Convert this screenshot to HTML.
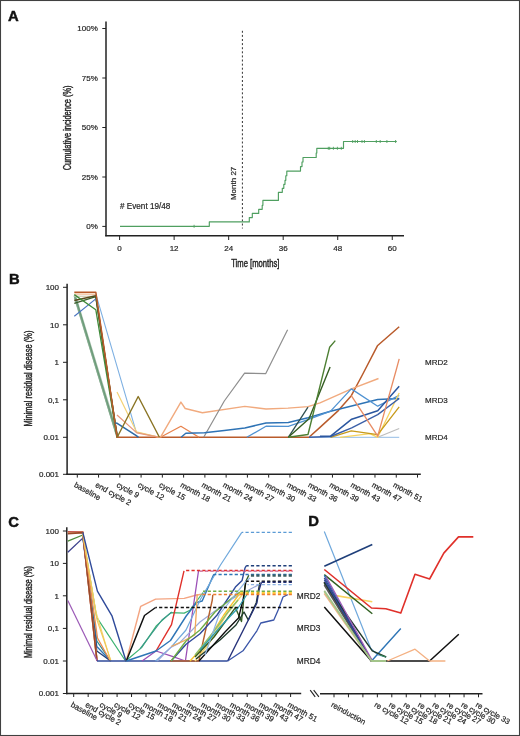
<!DOCTYPE html>
<html><head><meta charset="utf-8"><style>
html,body{margin:0;padding:0;background:#fff;}
#fig{position:relative;width:520px;height:736px;overflow:hidden;background:#fff;}
svg{display:block;will-change:transform;}
svg text{font-family:"Liberation Sans", sans-serif;}
</style></head><body><div id="fig">
<svg width="520" height="736" viewBox="0 0 520 736">
<rect x="0" y="0" width="520" height="736" fill="#fff"/>
<text x="8.00" y="20.90" font-size="14.8" text-anchor="start" fill="#111" font-weight="bold" stroke="#111" stroke-width="0.45">A</text>
<text x="8.90" y="283.50" font-size="14.8" text-anchor="start" fill="#111" font-weight="bold" stroke="#111" stroke-width="0.45">B</text>
<text x="8.30" y="526.50" font-size="14.8" text-anchor="start" fill="#111" font-weight="bold" stroke="#111" stroke-width="0.45">C</text>
<text x="308.30" y="526.30" font-size="14.8" text-anchor="start" fill="#111" font-weight="bold" stroke="#111" stroke-width="0.45">D</text>
<line x1="106.00" y1="21.50" x2="106.00" y2="236.30" stroke="#222" stroke-width="1.5"/>
<line x1="105.25" y1="235.70" x2="404.00" y2="235.70" stroke="#222" stroke-width="1.5"/>
<line x1="102.30" y1="28.50" x2="106.00" y2="28.50" stroke="#222" stroke-width="1"/>
<text x="97.80" y="31.30" font-size="8" text-anchor="end" fill="#262626" font-weight="normal" stroke="#262626" stroke-width="0.2">100%</text>
<line x1="102.30" y1="78.00" x2="106.00" y2="78.00" stroke="#222" stroke-width="1"/>
<text x="97.80" y="80.80" font-size="8" text-anchor="end" fill="#262626" font-weight="normal" stroke="#262626" stroke-width="0.2">75%</text>
<line x1="102.30" y1="127.50" x2="106.00" y2="127.50" stroke="#222" stroke-width="1"/>
<text x="97.80" y="130.30" font-size="8" text-anchor="end" fill="#262626" font-weight="normal" stroke="#262626" stroke-width="0.2">50%</text>
<line x1="102.30" y1="177.00" x2="106.00" y2="177.00" stroke="#222" stroke-width="1"/>
<text x="97.80" y="179.80" font-size="8" text-anchor="end" fill="#262626" font-weight="normal" stroke="#262626" stroke-width="0.2">25%</text>
<line x1="102.30" y1="226.40" x2="106.00" y2="226.40" stroke="#222" stroke-width="1"/>
<text x="97.80" y="229.20" font-size="8" text-anchor="end" fill="#262626" font-weight="normal" stroke="#262626" stroke-width="0.2">0%</text>
<line x1="119.60" y1="235.70" x2="119.60" y2="240.00" stroke="#222" stroke-width="1"/>
<text x="119.60" y="251.00" font-size="8" text-anchor="middle" fill="#262626" font-weight="normal" stroke="#262626" stroke-width="0.2">0</text>
<line x1="174.13" y1="235.70" x2="174.13" y2="240.00" stroke="#222" stroke-width="1"/>
<text x="174.13" y="251.00" font-size="8" text-anchor="middle" fill="#262626" font-weight="normal" stroke="#262626" stroke-width="0.2">12</text>
<line x1="228.66" y1="235.70" x2="228.66" y2="240.00" stroke="#222" stroke-width="1"/>
<text x="228.66" y="251.00" font-size="8" text-anchor="middle" fill="#262626" font-weight="normal" stroke="#262626" stroke-width="0.2">24</text>
<line x1="283.19" y1="235.70" x2="283.19" y2="240.00" stroke="#222" stroke-width="1"/>
<text x="283.19" y="251.00" font-size="8" text-anchor="middle" fill="#262626" font-weight="normal" stroke="#262626" stroke-width="0.2">36</text>
<line x1="337.72" y1="235.70" x2="337.72" y2="240.00" stroke="#222" stroke-width="1"/>
<text x="337.72" y="251.00" font-size="8" text-anchor="middle" fill="#262626" font-weight="normal" stroke="#262626" stroke-width="0.2">48</text>
<line x1="392.25" y1="235.70" x2="392.25" y2="240.00" stroke="#222" stroke-width="1"/>
<text x="392.25" y="251.00" font-size="8" text-anchor="middle" fill="#262626" font-weight="normal" stroke="#262626" stroke-width="0.2">60</text>
<text x="0.00" y="0.00" font-size="10" text-anchor="middle" fill="#262626" font-weight="normal" transform="translate(255.30,267.00) scale(0.765,1)" stroke="#262626" stroke-width="0.42">Time [months]</text>
<text x="0.00" y="0.00" font-size="10" text-anchor="middle" fill="#262626" font-weight="normal" transform="translate(71.20,127.90) rotate(-90) scale(0.75,1)" stroke="#262626" stroke-width="0.42">Cumulative incidence (%)</text>
<text x="120.10" y="208.90" font-size="8.15" text-anchor="start" fill="#262626" font-weight="normal" stroke="#262626" stroke-width="0.2"># Event 19/48</text>
<line x1="242.40" y1="30.80" x2="242.40" y2="228.50" stroke="#333" stroke-width="1" stroke-dasharray="2,2.1"/>
<text x="0.00" y="0.00" font-size="8" text-anchor="middle" fill="#262626" font-weight="normal" transform="translate(235.90,183.40) rotate(-90)" stroke="#262626" stroke-width="0.2">Month 27</text>
<line x1="67.10" y1="283.80" x2="67.10" y2="475.00" stroke="#222" stroke-width="1.5"/>
<line x1="66.35" y1="474.20" x2="420.80" y2="474.20" stroke="#222" stroke-width="1.5"/>
<line x1="63.00" y1="287.30" x2="67.10" y2="287.30" stroke="#222" stroke-width="1"/>
<text x="59.00" y="290.10" font-size="8" text-anchor="end" fill="#262626" font-weight="normal" stroke="#262626" stroke-width="0.2">100</text>
<line x1="63.00" y1="324.80" x2="67.10" y2="324.80" stroke="#222" stroke-width="1"/>
<text x="59.00" y="327.60" font-size="8" text-anchor="end" fill="#262626" font-weight="normal" stroke="#262626" stroke-width="0.2">10</text>
<line x1="63.00" y1="362.30" x2="67.10" y2="362.30" stroke="#222" stroke-width="1"/>
<text x="59.00" y="365.10" font-size="8" text-anchor="end" fill="#262626" font-weight="normal" stroke="#262626" stroke-width="0.2">1</text>
<line x1="63.00" y1="399.80" x2="67.10" y2="399.80" stroke="#222" stroke-width="1"/>
<text x="59.00" y="402.60" font-size="8" text-anchor="end" fill="#262626" font-weight="normal" stroke="#262626" stroke-width="0.2">0,1</text>
<line x1="63.00" y1="437.30" x2="67.10" y2="437.30" stroke="#222" stroke-width="1"/>
<text x="59.00" y="440.10" font-size="8" text-anchor="end" fill="#262626" font-weight="normal" stroke="#262626" stroke-width="0.2">0.01</text>
<line x1="63.00" y1="474.30" x2="67.10" y2="474.30" stroke="#222" stroke-width="1"/>
<text x="59.00" y="477.10" font-size="8" text-anchor="end" fill="#262626" font-weight="normal" stroke="#262626" stroke-width="0.2">0.001</text>
<text x="0.00" y="0.00" font-size="10" text-anchor="middle" fill="#262626" font-weight="normal" transform="translate(32.30,378.50) rotate(-90) scale(0.75,1)" stroke="#262626" stroke-width="0.42">Minimal residual disease (%)</text>
<line x1="77.30" y1="474.20" x2="77.30" y2="477.60" stroke="#222" stroke-width="1"/>
<line x1="98.56" y1="474.20" x2="98.56" y2="477.60" stroke="#222" stroke-width="1"/>
<line x1="119.83" y1="474.20" x2="119.83" y2="477.60" stroke="#222" stroke-width="1"/>
<line x1="141.09" y1="474.20" x2="141.09" y2="477.60" stroke="#222" stroke-width="1"/>
<line x1="162.35" y1="474.20" x2="162.35" y2="477.60" stroke="#222" stroke-width="1"/>
<line x1="183.62" y1="474.20" x2="183.62" y2="477.60" stroke="#222" stroke-width="1"/>
<line x1="204.88" y1="474.20" x2="204.88" y2="477.60" stroke="#222" stroke-width="1"/>
<line x1="226.14" y1="474.20" x2="226.14" y2="477.60" stroke="#222" stroke-width="1"/>
<line x1="247.40" y1="474.20" x2="247.40" y2="477.60" stroke="#222" stroke-width="1"/>
<line x1="268.67" y1="474.20" x2="268.67" y2="477.60" stroke="#222" stroke-width="1"/>
<line x1="289.93" y1="474.20" x2="289.93" y2="477.60" stroke="#222" stroke-width="1"/>
<line x1="311.19" y1="474.20" x2="311.19" y2="477.60" stroke="#222" stroke-width="1"/>
<line x1="332.46" y1="474.20" x2="332.46" y2="477.60" stroke="#222" stroke-width="1"/>
<line x1="353.72" y1="474.20" x2="353.72" y2="477.60" stroke="#222" stroke-width="1"/>
<line x1="374.98" y1="474.20" x2="374.98" y2="477.60" stroke="#222" stroke-width="1"/>
<line x1="396.25" y1="474.20" x2="396.25" y2="477.60" stroke="#222" stroke-width="1"/>
<line x1="417.51" y1="474.20" x2="417.51" y2="477.60" stroke="#222" stroke-width="1"/>
<text x="0.00" y="0.00" font-size="7.8" text-anchor="start" fill="#262626" font-weight="normal" transform="translate(73.50,486.40) rotate(29)" stroke="#262626" stroke-width="0.2">baseline</text>
<text x="0.00" y="0.00" font-size="7.8" text-anchor="start" fill="#262626" font-weight="normal" transform="translate(94.76,486.40) rotate(29)" stroke="#262626" stroke-width="0.2">end cycle 2</text>
<text x="0.00" y="0.00" font-size="7.8" text-anchor="start" fill="#262626" font-weight="normal" transform="translate(116.03,486.40) rotate(29)" stroke="#262626" stroke-width="0.2">cycle 9</text>
<text x="0.00" y="0.00" font-size="7.8" text-anchor="start" fill="#262626" font-weight="normal" transform="translate(137.29,486.40) rotate(29)" stroke="#262626" stroke-width="0.2">cycle 12</text>
<text x="0.00" y="0.00" font-size="7.8" text-anchor="start" fill="#262626" font-weight="normal" transform="translate(158.55,486.40) rotate(29)" stroke="#262626" stroke-width="0.2">cycle 15</text>
<text x="0.00" y="0.00" font-size="7.8" text-anchor="start" fill="#262626" font-weight="normal" transform="translate(179.81,486.40) rotate(29)" stroke="#262626" stroke-width="0.2">month 18</text>
<text x="0.00" y="0.00" font-size="7.8" text-anchor="start" fill="#262626" font-weight="normal" transform="translate(201.08,486.40) rotate(29)" stroke="#262626" stroke-width="0.2">month 21</text>
<text x="0.00" y="0.00" font-size="7.8" text-anchor="start" fill="#262626" font-weight="normal" transform="translate(222.34,486.40) rotate(29)" stroke="#262626" stroke-width="0.2">month 24</text>
<text x="0.00" y="0.00" font-size="7.8" text-anchor="start" fill="#262626" font-weight="normal" transform="translate(243.60,486.40) rotate(29)" stroke="#262626" stroke-width="0.2">month 27</text>
<text x="0.00" y="0.00" font-size="7.8" text-anchor="start" fill="#262626" font-weight="normal" transform="translate(264.87,486.40) rotate(29)" stroke="#262626" stroke-width="0.2">month 30</text>
<text x="0.00" y="0.00" font-size="7.8" text-anchor="start" fill="#262626" font-weight="normal" transform="translate(286.13,486.40) rotate(29)" stroke="#262626" stroke-width="0.2">month 33</text>
<text x="0.00" y="0.00" font-size="7.8" text-anchor="start" fill="#262626" font-weight="normal" transform="translate(307.39,486.40) rotate(29)" stroke="#262626" stroke-width="0.2">month 36</text>
<text x="0.00" y="0.00" font-size="7.8" text-anchor="start" fill="#262626" font-weight="normal" transform="translate(328.66,486.40) rotate(29)" stroke="#262626" stroke-width="0.2">month 39</text>
<text x="0.00" y="0.00" font-size="7.8" text-anchor="start" fill="#262626" font-weight="normal" transform="translate(349.92,486.40) rotate(29)" stroke="#262626" stroke-width="0.2">month 43</text>
<text x="0.00" y="0.00" font-size="7.8" text-anchor="start" fill="#262626" font-weight="normal" transform="translate(371.18,486.40) rotate(29)" stroke="#262626" stroke-width="0.2">month 47</text>
<text x="0.00" y="0.00" font-size="7.8" text-anchor="start" fill="#262626" font-weight="normal" transform="translate(392.45,486.40) rotate(29)" stroke="#262626" stroke-width="0.2">month 51</text>
<text x="425.00" y="365.00" font-size="8" text-anchor="start" fill="#262626" font-weight="normal" stroke="#262626" stroke-width="0.2">MRD2</text>
<text x="425.00" y="402.60" font-size="8" text-anchor="start" fill="#262626" font-weight="normal" stroke="#262626" stroke-width="0.2">MRD3</text>
<text x="425.00" y="440.00" font-size="8" text-anchor="start" fill="#262626" font-weight="normal" stroke="#262626" stroke-width="0.2">MRD4</text>
<line x1="66.80" y1="527.30" x2="66.80" y2="694.30" stroke="#222" stroke-width="1.5"/>
<line x1="66.05" y1="693.50" x2="301.20" y2="693.50" stroke="#222" stroke-width="1.5"/>
<line x1="62.90" y1="531.00" x2="66.80" y2="531.00" stroke="#222" stroke-width="1"/>
<text x="58.90" y="533.80" font-size="8" text-anchor="end" fill="#262626" font-weight="normal" stroke="#262626" stroke-width="0.2">100</text>
<line x1="62.90" y1="563.40" x2="66.80" y2="563.40" stroke="#222" stroke-width="1"/>
<text x="58.90" y="566.20" font-size="8" text-anchor="end" fill="#262626" font-weight="normal" stroke="#262626" stroke-width="0.2">10</text>
<line x1="62.90" y1="595.80" x2="66.80" y2="595.80" stroke="#222" stroke-width="1"/>
<text x="58.90" y="598.60" font-size="8" text-anchor="end" fill="#262626" font-weight="normal" stroke="#262626" stroke-width="0.2">1</text>
<line x1="62.90" y1="628.40" x2="66.80" y2="628.40" stroke="#222" stroke-width="1"/>
<text x="58.90" y="631.20" font-size="8" text-anchor="end" fill="#262626" font-weight="normal" stroke="#262626" stroke-width="0.2">0,1</text>
<line x1="62.90" y1="661.00" x2="66.80" y2="661.00" stroke="#222" stroke-width="1"/>
<text x="58.90" y="663.80" font-size="8" text-anchor="end" fill="#262626" font-weight="normal" stroke="#262626" stroke-width="0.2">0.01</text>
<line x1="62.90" y1="693.50" x2="66.80" y2="693.50" stroke="#222" stroke-width="1"/>
<text x="58.90" y="696.30" font-size="8" text-anchor="end" fill="#262626" font-weight="normal" stroke="#262626" stroke-width="0.2">0.001</text>
<text x="0.00" y="0.00" font-size="10" text-anchor="middle" fill="#262626" font-weight="normal" transform="translate(32.30,612.00) rotate(-90) scale(0.72,1)" stroke="#262626" stroke-width="0.42">Minimal residual disease (%)</text>
<line x1="73.70" y1="693.50" x2="73.70" y2="697.00" stroke="#222" stroke-width="1"/>
<line x1="88.16" y1="693.50" x2="88.16" y2="697.00" stroke="#222" stroke-width="1"/>
<line x1="102.62" y1="693.50" x2="102.62" y2="697.00" stroke="#222" stroke-width="1"/>
<line x1="117.08" y1="693.50" x2="117.08" y2="697.00" stroke="#222" stroke-width="1"/>
<line x1="131.54" y1="693.50" x2="131.54" y2="697.00" stroke="#222" stroke-width="1"/>
<line x1="146.00" y1="693.50" x2="146.00" y2="697.00" stroke="#222" stroke-width="1"/>
<line x1="160.46" y1="693.50" x2="160.46" y2="697.00" stroke="#222" stroke-width="1"/>
<line x1="174.92" y1="693.50" x2="174.92" y2="697.00" stroke="#222" stroke-width="1"/>
<line x1="189.38" y1="693.50" x2="189.38" y2="697.00" stroke="#222" stroke-width="1"/>
<line x1="203.84" y1="693.50" x2="203.84" y2="697.00" stroke="#222" stroke-width="1"/>
<line x1="218.30" y1="693.50" x2="218.30" y2="697.00" stroke="#222" stroke-width="1"/>
<line x1="232.76" y1="693.50" x2="232.76" y2="697.00" stroke="#222" stroke-width="1"/>
<line x1="247.22" y1="693.50" x2="247.22" y2="697.00" stroke="#222" stroke-width="1"/>
<line x1="261.68" y1="693.50" x2="261.68" y2="697.00" stroke="#222" stroke-width="1"/>
<line x1="276.14" y1="693.50" x2="276.14" y2="697.00" stroke="#222" stroke-width="1"/>
<line x1="290.60" y1="693.50" x2="290.60" y2="697.00" stroke="#222" stroke-width="1"/>
<text x="0.00" y="0.00" font-size="7.8" text-anchor="start" fill="#262626" font-weight="normal" transform="translate(70.20,706.30) rotate(29)" stroke="#262626" stroke-width="0.2">baseline</text>
<text x="0.00" y="0.00" font-size="7.8" text-anchor="start" fill="#262626" font-weight="normal" transform="translate(84.66,706.30) rotate(29)" stroke="#262626" stroke-width="0.2">end cycle 2</text>
<text x="0.00" y="0.00" font-size="7.8" text-anchor="start" fill="#262626" font-weight="normal" transform="translate(99.12,706.30) rotate(29)" stroke="#262626" stroke-width="0.2">cycle 9</text>
<text x="0.00" y="0.00" font-size="7.8" text-anchor="start" fill="#262626" font-weight="normal" transform="translate(113.58,706.30) rotate(29)" stroke="#262626" stroke-width="0.2">cycle 12</text>
<text x="0.00" y="0.00" font-size="7.8" text-anchor="start" fill="#262626" font-weight="normal" transform="translate(128.04,706.30) rotate(29)" stroke="#262626" stroke-width="0.2">cycle 15</text>
<text x="0.00" y="0.00" font-size="7.8" text-anchor="start" fill="#262626" font-weight="normal" transform="translate(142.50,706.30) rotate(29)" stroke="#262626" stroke-width="0.2">month 18</text>
<text x="0.00" y="0.00" font-size="7.8" text-anchor="start" fill="#262626" font-weight="normal" transform="translate(156.96,706.30) rotate(29)" stroke="#262626" stroke-width="0.2">month 21</text>
<text x="0.00" y="0.00" font-size="7.8" text-anchor="start" fill="#262626" font-weight="normal" transform="translate(171.42,706.30) rotate(29)" stroke="#262626" stroke-width="0.2">month 24</text>
<text x="0.00" y="0.00" font-size="7.8" text-anchor="start" fill="#262626" font-weight="normal" transform="translate(185.88,706.30) rotate(29)" stroke="#262626" stroke-width="0.2">month 27</text>
<text x="0.00" y="0.00" font-size="7.8" text-anchor="start" fill="#262626" font-weight="normal" transform="translate(200.34,706.30) rotate(29)" stroke="#262626" stroke-width="0.2">month 30</text>
<text x="0.00" y="0.00" font-size="7.8" text-anchor="start" fill="#262626" font-weight="normal" transform="translate(214.80,706.30) rotate(29)" stroke="#262626" stroke-width="0.2">month 33</text>
<text x="0.00" y="0.00" font-size="7.8" text-anchor="start" fill="#262626" font-weight="normal" transform="translate(229.26,706.30) rotate(29)" stroke="#262626" stroke-width="0.2">month 36</text>
<text x="0.00" y="0.00" font-size="7.8" text-anchor="start" fill="#262626" font-weight="normal" transform="translate(243.72,706.30) rotate(29)" stroke="#262626" stroke-width="0.2">month 39</text>
<text x="0.00" y="0.00" font-size="7.8" text-anchor="start" fill="#262626" font-weight="normal" transform="translate(258.18,706.30) rotate(29)" stroke="#262626" stroke-width="0.2">month 43</text>
<text x="0.00" y="0.00" font-size="7.8" text-anchor="start" fill="#262626" font-weight="normal" transform="translate(272.64,706.30) rotate(29)" stroke="#262626" stroke-width="0.2">month 47</text>
<text x="0.00" y="0.00" font-size="7.8" text-anchor="start" fill="#262626" font-weight="normal" transform="translate(287.10,706.30) rotate(29)" stroke="#262626" stroke-width="0.2">month 51</text>
<text x="296.80" y="598.80" font-size="8.3" text-anchor="start" fill="#262626" font-weight="normal" stroke="#262626" stroke-width="0.2">MRD2</text>
<text x="296.80" y="631.40" font-size="8.3" text-anchor="start" fill="#262626" font-weight="normal" stroke="#262626" stroke-width="0.2">MRD3</text>
<text x="296.80" y="664.00" font-size="8.3" text-anchor="start" fill="#262626" font-weight="normal" stroke="#262626" stroke-width="0.2">MRD4</text>
<line x1="310.20" y1="690.20" x2="315.20" y2="696.90" stroke="#222" stroke-width="1.1"/>
<line x1="313.70" y1="690.20" x2="318.90" y2="696.90" stroke="#222" stroke-width="1.1"/>
<line x1="320.00" y1="693.80" x2="482.50" y2="693.80" stroke="#222" stroke-width="1.5"/>
<line x1="334.00" y1="693.80" x2="334.00" y2="697.30" stroke="#222" stroke-width="1"/>
<line x1="348.45" y1="693.80" x2="348.45" y2="697.30" stroke="#222" stroke-width="1"/>
<line x1="362.90" y1="693.80" x2="362.90" y2="697.30" stroke="#222" stroke-width="1"/>
<line x1="377.35" y1="693.80" x2="377.35" y2="697.30" stroke="#222" stroke-width="1"/>
<line x1="391.80" y1="693.80" x2="391.80" y2="697.30" stroke="#222" stroke-width="1"/>
<line x1="406.25" y1="693.80" x2="406.25" y2="697.30" stroke="#222" stroke-width="1"/>
<line x1="420.70" y1="693.80" x2="420.70" y2="697.30" stroke="#222" stroke-width="1"/>
<line x1="435.15" y1="693.80" x2="435.15" y2="697.30" stroke="#222" stroke-width="1"/>
<line x1="449.60" y1="693.80" x2="449.60" y2="697.30" stroke="#222" stroke-width="1"/>
<line x1="464.05" y1="693.80" x2="464.05" y2="697.30" stroke="#222" stroke-width="1"/>
<line x1="478.50" y1="693.80" x2="478.50" y2="697.30" stroke="#222" stroke-width="1"/>
<text x="0.00" y="0.00" font-size="7.8" text-anchor="start" fill="#262626" font-weight="normal" transform="translate(330.50,706.30) rotate(29)" stroke="#262626" stroke-width="0.2">reinduction</text>
<text x="0.00" y="0.00" font-size="7.8" text-anchor="start" fill="#262626" font-weight="normal" transform="translate(373.85,706.30) rotate(29)" stroke="#262626" stroke-width="0.2">re cycle 12</text>
<text x="0.00" y="0.00" font-size="7.8" text-anchor="start" fill="#262626" font-weight="normal" transform="translate(388.30,706.30) rotate(29)" stroke="#262626" stroke-width="0.2">re cycle 15</text>
<text x="0.00" y="0.00" font-size="7.8" text-anchor="start" fill="#262626" font-weight="normal" transform="translate(402.75,706.30) rotate(29)" stroke="#262626" stroke-width="0.2">re cycle 18</text>
<text x="0.00" y="0.00" font-size="7.8" text-anchor="start" fill="#262626" font-weight="normal" transform="translate(417.20,706.30) rotate(29)" stroke="#262626" stroke-width="0.2">re cycle 21</text>
<text x="0.00" y="0.00" font-size="7.8" text-anchor="start" fill="#262626" font-weight="normal" transform="translate(431.65,706.30) rotate(29)" stroke="#262626" stroke-width="0.2">re cycle 24</text>
<text x="0.00" y="0.00" font-size="7.8" text-anchor="start" fill="#262626" font-weight="normal" transform="translate(446.10,706.30) rotate(29)" stroke="#262626" stroke-width="0.2">re cycle 27</text>
<text x="0.00" y="0.00" font-size="7.8" text-anchor="start" fill="#262626" font-weight="normal" transform="translate(460.55,706.30) rotate(29)" stroke="#262626" stroke-width="0.2">re cycle 30</text>
<text x="0.00" y="0.00" font-size="7.8" text-anchor="start" fill="#262626" font-weight="normal" transform="translate(475.00,706.30) rotate(29)" stroke="#262626" stroke-width="0.2">re cycle 33</text>
<polyline points="120.00,226.30 209.30,226.30 209.30,221.90 249.30,221.90 249.30,217.60 252.30,217.60 252.30,213.40 258.70,213.40 258.70,209.30 262.20,209.30 262.20,205.30 262.90,205.30 262.90,200.40 278.40,200.40 278.40,192.30 282.30,192.30 282.30,188.30 283.80,188.30 283.80,184.30 285.00,184.30 285.00,180.30 285.80,180.30 285.80,175.70 286.80,175.70 286.80,171.10 300.50,171.10 300.50,166.60 302.00,166.60 302.00,162.00 303.00,162.00 303.00,157.50 316.20,157.50 316.20,153.00 316.80,153.00 316.80,148.30 343.50,148.30 343.50,141.50 396.80,141.50" fill="none" stroke="#4f9f60" stroke-width="1.15" stroke-linejoin="round" stroke-linejoin="miter" stroke-linecap="butt"/>
<line x1="194.10" y1="224.80" x2="194.10" y2="227.80" stroke="#4f9f60" stroke-width="0.9"/>
<line x1="328.30" y1="146.80" x2="328.30" y2="149.80" stroke="#4f9f60" stroke-width="0.9"/>
<line x1="329.70" y1="146.80" x2="329.70" y2="149.80" stroke="#4f9f60" stroke-width="0.9"/>
<line x1="333.40" y1="146.80" x2="333.40" y2="149.80" stroke="#4f9f60" stroke-width="0.9"/>
<line x1="337.40" y1="146.80" x2="337.40" y2="149.80" stroke="#4f9f60" stroke-width="0.9"/>
<line x1="341.30" y1="146.80" x2="341.30" y2="149.80" stroke="#4f9f60" stroke-width="0.9"/>
<line x1="352.70" y1="140.00" x2="352.70" y2="143.00" stroke="#4f9f60" stroke-width="0.9"/>
<line x1="355.20" y1="140.00" x2="355.20" y2="143.00" stroke="#4f9f60" stroke-width="0.9"/>
<line x1="357.50" y1="140.00" x2="357.50" y2="143.00" stroke="#4f9f60" stroke-width="0.9"/>
<line x1="362.00" y1="140.00" x2="362.00" y2="143.00" stroke="#4f9f60" stroke-width="0.9"/>
<line x1="364.40" y1="140.00" x2="364.40" y2="143.00" stroke="#4f9f60" stroke-width="0.9"/>
<line x1="376.30" y1="140.00" x2="376.30" y2="143.00" stroke="#4f9f60" stroke-width="0.9"/>
<line x1="380.20" y1="140.00" x2="380.20" y2="143.00" stroke="#4f9f60" stroke-width="0.9"/>
<line x1="386.90" y1="140.00" x2="386.90" y2="143.00" stroke="#4f9f60" stroke-width="0.9"/>
<line x1="395.60" y1="140.00" x2="395.60" y2="143.00" stroke="#4f9f60" stroke-width="0.9"/>
<polyline points="75.20,297.50 118.00,437.30" fill="none" stroke="#a5bfaa" stroke-width="2.8" stroke-linejoin="round"/>
<polyline points="74.30,295.50 117.20,437.30" fill="none" stroke="#80a98b" stroke-width="1.6" stroke-linejoin="round"/>
<polyline points="75.60,297.50 118.00,437.30" fill="none" stroke="#6a9a78" stroke-width="1.1" stroke-linejoin="round"/>
<polyline points="74.30,294.00 95.80,294.20 117.20,437.30" fill="none" stroke="#f3c6a5" stroke-width="1.6" stroke-linejoin="round"/>
<polyline points="74.30,296.20 95.80,296.40 117.20,437.30" fill="none" stroke="#d8d0bb" stroke-width="1.5" stroke-linejoin="round"/>
<polyline points="95.80,293.80 136.30,432.30 159.60,437.30" fill="none" stroke="#7eb0e2" stroke-width="1.1" stroke-linejoin="round"/>
<polyline points="74.30,300.60 95.80,295.80 117.20,437.30" fill="none" stroke="#5b4a1c" stroke-width="1.5" stroke-linejoin="round"/>
<polyline points="74.30,303.40 95.80,296.60 117.20,437.30" fill="none" stroke="#3c5e2c" stroke-width="1.5" stroke-linejoin="round"/>
<polyline points="74.30,316.20 95.80,298.90" fill="none" stroke="#4a74c0" stroke-width="1.1" stroke-linejoin="round"/>
<polyline points="74.30,294.60 95.80,309.70 117.20,437.30" fill="none" stroke="#3f8a3a" stroke-width="1.3" stroke-linejoin="round"/>
<polyline points="74.30,292.20 95.80,292.20 117.20,437.30 309.00,437.30 320.00,427.40 338.30,410.60 351.30,395.70 362.30,375.00 377.40,345.80 399.20,326.70" fill="none" stroke="#b95b2b" stroke-width="1.5" stroke-linejoin="round"/>
<polyline points="117.00,391.90 136.50,431.80 159.60,437.30" fill="none" stroke="#f4d275" stroke-width="1.2" stroke-linejoin="round"/>
<polyline points="117.00,415.00 136.80,432.90 159.60,437.30" fill="none" stroke="#e9977a" stroke-width="1.2" stroke-linejoin="round"/>
<polyline points="115.40,423.00 117.20,423.30 136.30,435.70 138.50,437.30" fill="none" stroke="#2d6aa6" stroke-width="1.6" stroke-linejoin="round"/>
<polyline points="117.20,437.30 138.20,396.50 159.40,437.30" fill="none" stroke="#8a7424" stroke-width="1.4" stroke-linejoin="round"/>
<polyline points="160.40,437.30 180.90,426.30 199.00,437.30" fill="none" stroke="#e8834e" stroke-width="1.3" stroke-linejoin="round"/>
<polyline points="160.40,437.30 180.90,402.10 185.20,408.50 202.40,412.80 244.80,406.40 266.00,409.00 288.00,408.10 308.00,406.60 320.00,402.90 351.50,388.80 378.50,378.50" fill="none" stroke="#f1aa7e" stroke-width="1.4" stroke-linejoin="round"/>
<polyline points="203.70,437.30 224.30,401.00 244.60,373.20 265.80,373.60 287.60,329.80" fill="none" stroke="#8e8e8e" stroke-width="1.2" stroke-linejoin="round"/>
<polyline points="181.10,437.30 185.80,433.30 204.40,432.70 224.30,430.40 244.80,428.00 266.00,423.00 288.30,422.50 308.00,417.70 330.60,411.30 377.70,399.40 399.20,398.50" fill="none" stroke="#2e73b5" stroke-width="1.5" stroke-linejoin="round"/>
<polyline points="246.80,437.30 266.00,426.20 288.30,426.30 308.00,419.60 330.60,411.10 351.30,388.90 377.70,406.20 399.20,395.40" fill="none" stroke="#4f92d2" stroke-width="1.3" stroke-linejoin="round"/>
<polyline points="288.30,437.30 308.00,407.10" fill="none" stroke="#2f4f4f" stroke-width="1.3" stroke-linejoin="round"/>
<polyline points="288.30,437.30 309.00,418.70 330.10,366.90" fill="none" stroke="#355e23" stroke-width="1.4" stroke-linejoin="round"/>
<polyline points="288.30,437.30 308.00,434.50 329.60,347.30 335.30,340.60" fill="none" stroke="#4d7f33" stroke-width="1.4" stroke-linejoin="round"/>
<polyline points="309.00,437.30 399.20,437.30" fill="none" stroke="#a9c9ea" stroke-width="1.3" stroke-linejoin="round"/>
<polyline points="377.70,437.30 399.20,428.50" fill="none" stroke="#bdbdbd" stroke-width="1.2" stroke-linejoin="round"/>
<polyline points="340.00,437.30 370.00,433.70 377.70,437.30 399.20,393.00" fill="none" stroke="#f7d35e" stroke-width="1.3" stroke-linejoin="round"/>
<polyline points="330.60,437.30 351.30,430.80 377.70,434.60 399.20,406.90" fill="none" stroke="#c79a1a" stroke-width="1.3" stroke-linejoin="round"/>
<polyline points="309.00,437.30 330.60,436.50 351.70,427.90 377.70,414.60 399.20,398.50" fill="none" stroke="#3a5fa8" stroke-width="1.4" stroke-linejoin="round"/>
<polyline points="320.00,436.20 330.60,436.20 351.70,419.20 377.70,410.80 399.20,386.20" fill="none" stroke="#2b57a0" stroke-width="1.5" stroke-linejoin="round"/>
<polyline points="351.30,395.70 377.70,436.20 396.20,370.00 399.20,358.80" fill="none" stroke="#e88c64" stroke-width="1.3" stroke-linejoin="round"/>
<polyline points="82.80,534.50 96.70,617.30 125.60,661.00 141.60,647.60 156.50,625.60 170.80,612.60 184.20,613.10 190.00,610.20 203.00,592.50" fill="none" stroke="#3cb371" stroke-width="1.2" stroke-linejoin="round"/>
<polyline points="82.80,535.50 96.80,641.00 110.60,661.00" fill="none" stroke="#2d8a8a" stroke-width="1.3" stroke-linejoin="round"/>
<polyline points="82.80,536.50 96.80,646.50 110.60,661.00" fill="none" stroke="#2e75b6" stroke-width="1.3" stroke-linejoin="round"/>
<polyline points="82.80,537.00 96.80,651.00 110.60,661.00" fill="none" stroke="#1f3f7a" stroke-width="1.3" stroke-linejoin="round"/>
<polyline points="67.80,541.20 82.80,535.00" fill="none" stroke="#4c8a3a" stroke-width="1.3" stroke-linejoin="round"/>
<polyline points="67.80,552.30 82.80,538.10" fill="none" stroke="#3b3f8c" stroke-width="1.3" stroke-linejoin="round"/>
<polyline points="67.80,531.80 82.80,531.80 97.00,661.00" fill="none" stroke="#c0504d" stroke-width="1.6" stroke-linejoin="round"/>
<polyline points="67.80,532.80 82.80,532.40 97.00,661.00" fill="none" stroke="#e8a07a" stroke-width="1.6" stroke-linejoin="round"/>
<polyline points="67.80,533.60 82.80,532.60 97.00,661.00" fill="none" stroke="#9a4a2a" stroke-width="1.6" stroke-linejoin="round"/>
<polyline points="82.80,532.60 97.50,638.00 110.20,661.00" fill="none" stroke="#ed8a4f" stroke-width="1.3" stroke-linejoin="round"/>
<polyline points="82.80,533.50 96.00,612.00 110.60,661.00" fill="none" stroke="#f6d46c" stroke-width="1.1" stroke-linejoin="round"/>
<polyline points="82.80,534.00 97.00,620.00 111.00,661.00" fill="none" stroke="#f0c85a" stroke-width="1.1" stroke-linejoin="round"/>
<polyline points="82.80,532.40 97.40,591.20 112.10,616.20 126.00,661.00" fill="none" stroke="#2f4a9a" stroke-width="1.4" stroke-linejoin="round"/>
<polyline points="67.80,600.60 97.20,661.00" fill="none" stroke="#9b59b6" stroke-width="1.2" stroke-linejoin="round"/>
<polyline points="97.00,661.00 227.70,661.00" fill="none" stroke="#2f4a9a" stroke-width="1.4" stroke-linejoin="round"/>
<polyline points="126.30,661.00 140.70,606.30 155.60,599.10 184.20,598.40 195.80,595.30 201.50,594.30" fill="none" stroke="#f4a582" stroke-width="1.4" stroke-linejoin="round"/>
<polyline points="126.30,661.00 144.50,615.50 155.60,607.50" fill="none" stroke="#111111" stroke-width="1.5" stroke-linejoin="round"/>
<polyline points="142.10,661.00 156.00,651.00 171.50,656.20 185.40,661.00 198.50,571.00" fill="none" stroke="#9b4fb6" stroke-width="1.3" stroke-linejoin="round"/>
<polyline points="156.00,651.00 171.50,624.60 184.00,570.80" fill="none" stroke="#e0302a" stroke-width="1.4" stroke-linejoin="round"/>
<polyline points="126.30,661.00 156.00,651.00 170.50,640.50 186.20,616.00 196.70,602.50 202.20,601.00 213.80,574.30" fill="none" stroke="#2e75b6" stroke-width="1.4" stroke-linejoin="round"/>
<polyline points="155.60,661.00 171.10,647.10 186.00,630.00 200.80,598.70 220.50,565.00 241.80,532.30" fill="none" stroke="#6fa8dc" stroke-width="1.2" stroke-linejoin="round"/>
<polyline points="157.30,661.00 171.10,647.10 179.20,643.10 200.00,622.00 230.00,600.00 259.00,584.60" fill="none" stroke="#9aa8d8" stroke-width="1.2" stroke-linejoin="round"/>
<polyline points="171.10,646.50 183.80,640.80 194.80,635.00 196.60,607.00 197.20,594.00" fill="none" stroke="#f0a85a" stroke-width="1.3" stroke-linejoin="round"/>
<polyline points="170.00,661.00 198.80,661.00 212.30,600.00 212.80,594.80" fill="none" stroke="#b5602e" stroke-width="1.4" stroke-linejoin="round"/>
<polyline points="140.00,648.80 161.90,620.00 172.00,612.00" fill="none" stroke="#3a9a8a" stroke-width="1.2" stroke-linejoin="round"/>
<polyline points="171.10,661.00 186.10,644.20 200.00,633.80 217.10,615.00 235.40,587.10 242.10,580.40 245.00,568.00 246.20,565.80" fill="none" stroke="#2f4a9a" stroke-width="1.4" stroke-linejoin="round"/>
<polyline points="171.10,661.00 186.00,641.00 200.00,630.00 215.00,612.00 232.00,598.00 240.00,592.00" fill="none" stroke="#70ad47" stroke-width="1.4" stroke-linejoin="round"/>
<polyline points="190.00,661.00 205.00,645.00 223.80,615.00 240.20,592.90" fill="none" stroke="#f6c430" stroke-width="1.4" stroke-linejoin="round"/>
<polyline points="195.00,661.00 208.00,645.00 226.00,615.00 242.00,595.00" fill="none" stroke="#f7d870" stroke-width="1.6" stroke-linejoin="round"/>
<polyline points="195.00,655.00 215.00,630.00 228.00,612.00 238.00,600.00" fill="none" stroke="#8fbf6a" stroke-width="1.3" stroke-linejoin="round"/>
<polyline points="195.00,657.00 214.00,637.00 225.00,622.00 235.40,607.70 241.50,621.50 245.40,582.30 248.80,575.20" fill="none" stroke="#355e23" stroke-width="1.4" stroke-linejoin="round"/>
<polyline points="196.00,659.00 220.00,640.00 236.00,625.00 244.00,612.00 248.30,620.00 256.30,602.70 259.80,582.50" fill="none" stroke="#1f3a2a" stroke-width="1.4" stroke-linejoin="round"/>
<polyline points="199.00,661.00 225.00,632.00 238.50,618.00 243.00,600.00 246.00,581.30" fill="none" stroke="#0d0d0d" stroke-width="1.3" stroke-linejoin="round"/>
<polyline points="205.00,655.00 219.00,615.00 245.00,582.30 250.00,578.00" fill="none" stroke="#8fb4e3" stroke-width="1.2" stroke-linejoin="round"/>
<polyline points="200.00,650.00 222.00,625.00 238.00,608.00 250.00,590.00" fill="none" stroke="#2a9db0" stroke-width="1.2" stroke-linejoin="round"/>
<polyline points="227.70,661.00 256.90,603.00 259.00,590.00 261.50,582.30" fill="none" stroke="#26327a" stroke-width="1.4" stroke-linejoin="round"/>
<polyline points="227.70,661.00 243.00,650.80 256.90,630.80 260.80,623.00 273.80,620.00 278.50,609.20 283.00,597.00 287.70,594.60" fill="none" stroke="#3a55a8" stroke-width="1.3" stroke-linejoin="round"/>
<line x1="241.80" y1="532.30" x2="292.80" y2="532.30" stroke="#5b9bd5" stroke-width="1.2" stroke-dasharray="3.2,2.2" stroke-dashoffset="1.70"/>
<line x1="246.20" y1="565.80" x2="292.80" y2="565.80" stroke="#1f3f7a" stroke-width="1.6" stroke-dasharray="3.2,2.2" stroke-dashoffset="0.70"/>
<line x1="184.20" y1="570.40" x2="292.80" y2="570.40" stroke="#e0302a" stroke-width="1.5" stroke-dasharray="3.2,2.2" stroke-dashoffset="3.50"/>
<line x1="198.50" y1="571.20" x2="292.80" y2="571.20" stroke="#cc5a8c" stroke-width="1.2" stroke-dasharray="3.2,2.2" stroke-dashoffset="4.30"/>
<line x1="213.80" y1="574.60" x2="292.80" y2="574.60" stroke="#2e75b6" stroke-width="1.5" stroke-dasharray="3.2,2.2" stroke-dashoffset="0.70"/>
<line x1="248.80" y1="575.60" x2="292.80" y2="575.60" stroke="#3b5f63" stroke-width="2.4" stroke-dasharray="3.2,2.2" stroke-dashoffset="3.30"/>
<line x1="246.00" y1="581.30" x2="292.80" y2="581.30" stroke="#111111" stroke-width="1.5" stroke-dasharray="3.2,2.2" stroke-dashoffset="0.50"/>
<line x1="261.50" y1="582.20" x2="292.80" y2="582.20" stroke="#26327a" stroke-width="1.6" stroke-dasharray="3.2,2.2" stroke-dashoffset="5.20"/>
<line x1="247.50" y1="584.60" x2="292.80" y2="584.60" stroke="#8fb4e3" stroke-width="1.3" stroke-dasharray="3.2,2.2" stroke-dashoffset="2.00"/>
<line x1="203.00" y1="591.30" x2="292.80" y2="591.30" stroke="#70ad47" stroke-width="1.5" stroke-dasharray="3.2,2.2" stroke-dashoffset="0.70"/>
<line x1="240.20" y1="593.00" x2="292.80" y2="593.00" stroke="#ffc000" stroke-width="1.6" stroke-dasharray="3.2,2.2" stroke-dashoffset="0.10"/>
<line x1="201.50" y1="594.40" x2="292.80" y2="594.40" stroke="#ed7d31" stroke-width="1.5" stroke-dasharray="3.2,2.2" stroke-dashoffset="4.60"/>
<line x1="155.60" y1="607.40" x2="292.80" y2="607.40" stroke="#111111" stroke-width="1.5" stroke-dasharray="3.2,2.2" stroke-dashoffset="1.90"/>
<polyline points="324.30,531.50 370.80,648.50 378.00,655.00 386.20,657.00" fill="none" stroke="#6fa8dc" stroke-width="1.2" stroke-linejoin="round"/>
<polyline points="324.30,566.20 372.30,544.50" fill="none" stroke="#1f3f7a" stroke-width="1.6" stroke-linejoin="round"/>
<polyline points="334.60,595.40 372.30,601.80" fill="none" stroke="#f7d35e" stroke-width="1.6" stroke-linejoin="round"/>
<polyline points="324.30,569.50 371.50,608.00 385.80,608.80 400.80,613.10 415.00,574.20 429.60,579.00 443.80,553.10 458.50,536.90 473.30,536.90" fill="none" stroke="#e0302a" stroke-width="1.6" stroke-linejoin="round"/>
<polyline points="324.30,574.60 372.30,613.80" fill="none" stroke="#2e5e1e" stroke-width="1.4" stroke-linejoin="round"/>
<polyline points="324.30,575.40 371.50,661.00 400.80,628.50" fill="none" stroke="#2e75b6" stroke-width="1.4" stroke-linejoin="round"/>
<polyline points="324.30,578.00 371.50,661.00" fill="none" stroke="#3b3f8c" stroke-width="1.4" stroke-linejoin="round"/>
<polyline points="324.30,582.00 371.50,661.00" fill="none" stroke="#333333" stroke-width="2.2" stroke-linejoin="round"/>
<polyline points="324.30,583.00 372.30,650.80 386.20,657.00" fill="none" stroke="#1f3a2a" stroke-width="1.4" stroke-linejoin="round"/>
<polyline points="324.30,585.00 371.50,661.00" fill="none" stroke="#555555" stroke-width="1.6" stroke-linejoin="round"/>
<polyline points="324.30,580.00 371.50,661.00" fill="none" stroke="#2f4a9a" stroke-width="1.3" stroke-linejoin="round"/>
<polyline points="326.00,576.50 372.50,661.00" fill="none" stroke="#a05ab8" stroke-width="1.3" stroke-linejoin="round"/>
<polyline points="324.30,593.50 371.50,661.00" fill="none" stroke="#f4b183" stroke-width="1.5" stroke-linejoin="round"/>
<polyline points="324.30,592.00 371.50,661.00" fill="none" stroke="#c9c98f" stroke-width="1.3" stroke-linejoin="round"/>
<polyline points="324.30,607.00 371.50,661.00 429.60,661.00 458.80,634.20" fill="none" stroke="#111111" stroke-width="1.5" stroke-linejoin="round"/>
<polyline points="324.30,590.80 371.50,661.00 386.20,661.00" fill="none" stroke="#a3c48a" stroke-width="1.8" stroke-linejoin="round"/>
<polyline points="387.30,661.00 415.00,649.20 429.60,661.00 445.40,661.00" fill="none" stroke="#f4b183" stroke-width="1.3" stroke-linejoin="round"/>
<polyline points="380.00,655.00 385.80,657.00" fill="none" stroke="#3a8a5a" stroke-width="1.3" stroke-linejoin="round"/>
<rect x="0.5" y="0.5" width="519" height="735" fill="none" stroke="#404040" stroke-width="1.1"/>
</svg></div></body></html>
